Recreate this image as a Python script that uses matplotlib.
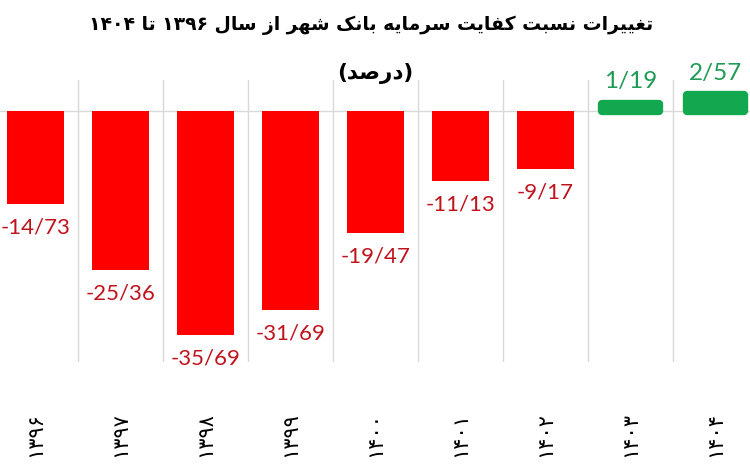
import matplotlib as mpl
mpl.use('Agg')
import matplotlib.pyplot as plt

# ── data ──────────────────────────────────────────────────────────────
years = ['۱۳۹۶', '۱۳۹۷', '۱۳۹۸', '۱۳۹۹', '۱۴۰۰', '۱۴۰۱', '۱۴۰۲', '۱۴۰۳', '۱۴۰۴']
changes = [-14.73, -25.36, -35.69, -31.69, -19.47, -11.13, -9.17, 1.19, 2.57]
title_fa = 'تغییرات نسبت کفایت سرمایه بانک شهر از سال ۱۳۹۶ تا ۱۴۰۴'
unit_fa = '(درصد)'

RED = '#FF0000'
RED_TXT = '#C0141C'
GREEN = '#12A84F'
GREEN_TXT = '#1E9B55'
GRID = '#D9D9D9'

# Arabic presentation forms (isolated, final, initial, medial)
FORMS = {
    'ا': ('\uFE8D', '\uFE8E', None, None),
    'ب': ('\uFE8F', '\uFE90', '\uFE91', '\uFE92'),
    'ت': ('\uFE95', '\uFE96', '\uFE97', '\uFE98'),
    'د': ('\uFEA9', '\uFEAA', None, None),
    'ر': ('\uFEAD', '\uFEAE', None, None),
    'ز': ('\uFEAF', '\uFEB0', None, None),
    'س': ('\uFEB1', '\uFEB2', '\uFEB3', '\uFEB4'),
    'ش': ('\uFEB5', '\uFEB6', '\uFEB7', '\uFEB8'),
    'ص': ('\uFEB9', '\uFEBA', '\uFEBB', '\uFEBC'),
    'غ': ('\uFECD', '\uFECE', '\uFECF', '\uFED0'),
    'ف': ('\uFED1', '\uFED2', '\uFED3', '\uFED4'),
    'ل': ('\uFEDD', '\uFEDE', '\uFEDF', '\uFEE0'),
    'م': ('\uFEE1', '\uFEE2', '\uFEE3', '\uFEE4'),
    'ن': ('\uFEE5', '\uFEE6', '\uFEE7', '\uFEE8'),
    'ه': ('\uFEE9', '\uFEEA', '\uFEEB', '\uFEEC'),
    'ی': ('\uFBFC', '\uFBFD', '\uFBFE', '\uFBFF'),
    'ک': ('\uFB8E', '\uFB8F', '\uFB90', '\uFB91'),
}
MIRROR = {'(': ')', ')': '('}


def shape(word):
    out = []
    for i, c in enumerate(word):
        f = FORMS.get(c)
        if f is None:
            out.append(c)
            continue
        prev = word[i - 1] if i > 0 else None
        nxt = word[i + 1] if i < len(word) - 1 else None
        jp = prev in FORMS and FORMS[prev][2] is not None
        jn = f[2] is not None and nxt in FORMS
        if jp and jn:
            out.append(f[3])
        elif jp:
            out.append(f[1])
        elif jn:
            out.append(f[2])
        else:
            out.append(f[0])
    return ''.join(out)


def rtl(text):
    vis = []
    for tok in reversed(text.split(' ')):
        if any(c in FORMS for c in tok):
            vis.append(''.join(MIRROR.get(c, c) for c in shape(tok)[::-1]))
        else:
            vis.append(tok)
    return ' '.join(vis)


fig = plt.figure(figsize=(7.5, 4.66), dpi=100)
ax = fig.add_axes([-7 / 750, 104 / 466, 765 / 750, 282 / 466])

x = list(range(len(years)))
colors = [RED if v < 0 else GREEN for v in changes]
bars = ax.bar(x, changes, width=0.67, color=colors, zorder=3)
for b, v in zip(bars, changes):
    if v > 0:
        b.set_edgecolor(GREEN)
        b.set_linewidth(6)
        b.set_joinstyle('round')

for xi, v in zip(x, changes):
    lab = f'{v:.2f}'.replace('.', '/')
    if v < 0:
        ax.annotate(lab, (xi, v), xytext=(0, -17), textcoords='offset points',
                    ha='center', va='center', fontsize=16, color=RED_TXT,
                    family='Lato')
    else:
        ax.annotate(lab, (xi, v), xytext=(0, 16), textcoords='offset points',
                    ha='center', va='center', fontsize=17.5, color=GREEN_TXT,
                    family='Lato')

ax.set_xlim(-0.5, len(years) - 0.5)
ax.set_ylim(-40, 5)
for xb in [i + 0.5 for i in range(len(years) - 1)]:
    ax.axvline(xb, color=GRID, lw=1, zorder=1)
ax.axhline(0, color=GRID, lw=1, zorder=1)

ax.set_xticks(x)
ax.set_xticklabels(years, rotation=90, fontsize=15, family='DejaVu Sans')
ax.tick_params(axis='x', length=0, pad=36)
ax.set_yticks([])
for s in ax.spines.values():
    s.set_visible(False)

fig.text(0.495, 1 - 25 / 466, rtl(title_fa), ha='center', va='center',
         fontsize=13.5, fontweight='bold', family='DejaVu Sans')
fig.text(0.5, 1 - 73 / 466, rtl(unit_fa), ha='center', va='center',
         fontsize=15.5, fontweight='bold', family='DejaVu Sans')

fig.savefig('out.png', dpi=100)
